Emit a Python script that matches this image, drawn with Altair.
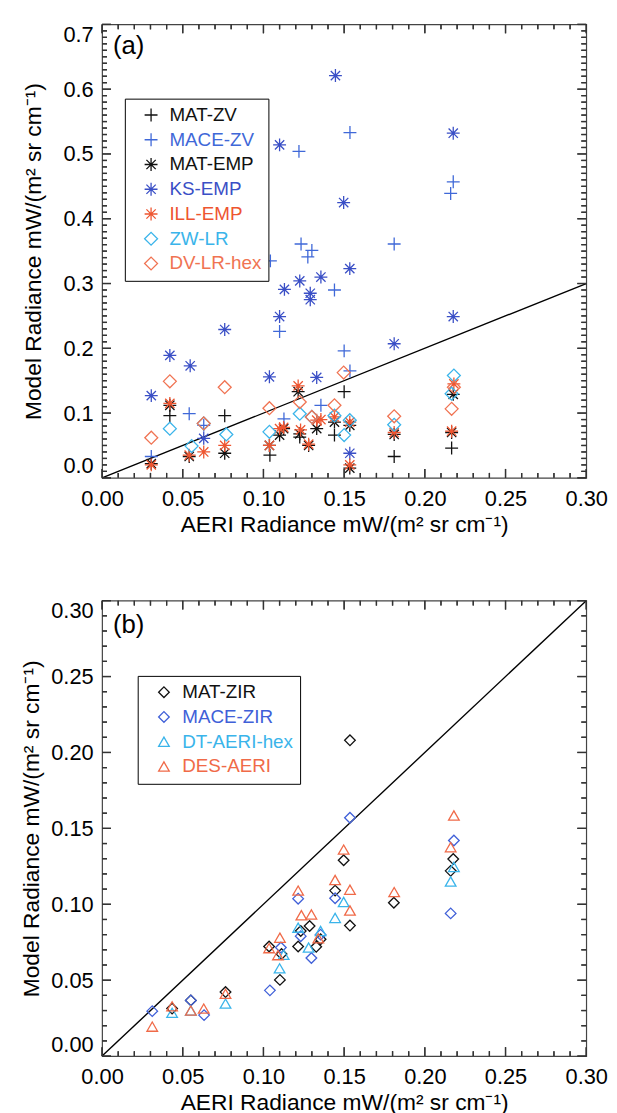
import altair as alt
import pandas as pd

FONT = "Liberation Sans"
FRAME = "#444444"
TICKC = "#333333"
PLUS = "M-1,0L1,0M0,-1L0,1"
AST = "M-1,0L1,0M0,-1L0,1M-0.72,-0.72L0.72,0.72M-0.72,0.72L0.72,-0.72"

# ---------------- panel (a) data ----------------
a_series = ["MAT-ZV", "MACE-ZV", "MAT-EMP", "KS-EMP", "ILL-EMP", "ZW-LR", "DV-LR-hex"]
a_colors = ["#111111", "#3f68d8", "#111111", "#3a4fc6", "#ee5530", "#3ab4ea", "#f07352"]
a_shapes = [PLUS, PLUS, AST, AST, AST, "diamond", "diamond"]
a_sizes = [170, 170, 160, 160, 160, 105, 105]

matzv_x = [0.042, 0.076, 0.104, 0.1225, 0.144, 0.150, 0.181, 0.2166]
matzv_y = [0.096, 0.096, 0.035, 0.063, 0.066, 0.133, 0.033, 0.046]

macezv_x = [0.0305, 0.054, 0.063, 0.1043, 0.110, 0.1127, 0.122, 0.1233, 0.1275, 0.130,
            0.1356, 0.144, 0.150, 0.1536, 0.1536, 0.181, 0.216, 0.2176]
macezv_y = [0.033, 0.099, 0.081, 0.335, 0.226, 0.091, 0.504, 0.361, 0.341, 0.351,
            0.112, 0.290, 0.196, 0.165, 0.533, 0.361, 0.439, 0.457]

matemp_x = [0.0305, 0.042, 0.054, 0.076, 0.1037, 0.110, 0.1125, 0.1215, 0.1225, 0.128,
            0.133, 0.144, 0.1535, 0.1535, 0.181, 0.2166, 0.2176]
matemp_y = [0.022, 0.112, 0.033, 0.038, 0.050, 0.066, 0.076, 0.133, 0.068, 0.050,
            0.076, 0.086, 0.081, 0.015, 0.067, 0.070, 0.129]

ksemp_x = [0.0305, 0.042, 0.0546, 0.063, 0.076, 0.1037, 0.110, 0.110, 0.113, 0.1225,
           0.129, 0.129, 0.133, 0.1356, 0.1446, 0.1497, 0.1535, 0.1535, 0.181, 0.2176, 0.2176]
ksemp_y = [0.127, 0.189, 0.173, 0.061, 0.229, 0.156, 0.249, 0.514, 0.291, 0.304,
           0.285, 0.275, 0.155, 0.310, 0.621, 0.425, 0.323, 0.038, 0.207, 0.532, 0.249]

illemp_x = [0.0305, 0.042, 0.054, 0.063, 0.076, 0.1037, 0.110, 0.1125, 0.1215, 0.123,
            0.128, 0.133, 0.1356, 0.144, 0.1535, 0.1535, 0.181, 0.2166, 0.218]
illemp_y = [0.020, 0.115, 0.035, 0.040, 0.050, 0.050, 0.076, 0.078, 0.142, 0.074,
            0.052, 0.089, 0.090, 0.094, 0.086, 0.020, 0.070, 0.072, 0.145]

zwlr_x = [0.042, 0.0555, 0.063, 0.077, 0.1037, 0.1225, 0.130, 0.144, 0.150, 0.1535,
          0.181, 0.2166, 0.218]
zwlr_y = [0.076, 0.049, 0.084, 0.067, 0.071, 0.099, 0.094, 0.096, 0.066, 0.089,
          0.082, 0.130, 0.158]

dvlr_x = [0.0305, 0.042, 0.063, 0.076, 0.1037, 0.1225, 0.130, 0.144, 0.1497, 0.181,
          0.2166, 0.218]
dvlr_y = [0.062, 0.149, 0.084, 0.140, 0.1075, 0.117, 0.094, 0.112, 0.1625, 0.095,
          0.1065, 0.140]

# ---------------- panel (b) data ----------------
b_series = ["MAT-ZIR", "MACE-ZIR", "DT-AERI-hex", "DES-AERI"]
b_colors = ["#111111", "#4060d8", "#3ab4ea", "#f06a48"]
b_shapes = ["diamond", "diamond", "triangle-up", "triangle-up"]
b_sizes = [115, 115, 150, 150]

matzir_x = [0.0434, 0.055, 0.0765, 0.1035, 0.1102, 0.1112, 0.1215, 0.1231, 0.1286, 0.1327,
            0.1354, 0.1444, 0.1497, 0.1536, 0.1536, 0.1808, 0.216, 0.2176]
matzir_y = [0.0313, 0.0367, 0.0422, 0.0722, 0.0502, 0.0672, 0.0722, 0.0824, 0.0857, 0.072,
            0.077, 0.109, 0.129, 0.086, 0.208, 0.101, 0.122, 0.1298]

macezir_x = [0.0311, 0.055, 0.0632, 0.104, 0.1108, 0.1215, 0.1231, 0.1297, 0.1354, 0.1444,
             0.1536, 0.216, 0.218]
macezir_y = [0.0296, 0.0367, 0.027, 0.0433, 0.0715, 0.1037, 0.079, 0.0646, 0.080, 0.104,
             0.157, 0.094, 0.142]

dtaeri_x = [0.0434, 0.055, 0.0765, 0.110, 0.1125, 0.1215, 0.128, 0.1354, 0.1444, 0.1497,
            0.216, 0.218]
dtaeri_y = [0.0285, 0.030, 0.0346, 0.0578, 0.0667, 0.0846, 0.0715, 0.0824, 0.091, 0.1015,
            0.115, 0.1246]

desaeri_x = [0.0311, 0.0434, 0.055, 0.063, 0.0765, 0.1035, 0.1102, 0.109, 0.1215, 0.1235,
             0.1297, 0.134, 0.1444, 0.1497, 0.1536, 0.1536, 0.181, 0.216, 0.218]
desaeri_y = [0.0194, 0.0328, 0.030, 0.0313, 0.041, 0.0711, 0.078, 0.0665, 0.109, 0.0928,
             0.0933, 0.0776, 0.116, 0.136, 0.1096, 0.0959, 0.108, 0.1376, 0.1585]

x_ticks = [0.0, 0.05, 0.10, 0.15, 0.20, 0.25, 0.30]
ya_ticks = [0.0, 0.1, 0.2, 0.3, 0.4, 0.5, 0.6, 0.7]
yb_ticks = [0.0, 0.05, 0.10, 0.15, 0.20, 0.25, 0.30]
x_minor = [i / 100 for i in range(31) if i % 5]
ya_minor = [i / 100 for i in range(71) if i % 10]
yb_minor = [i / 100 for i in range(31) if i % 5]
diag = [0.0, 0.30]

W = 489
HA = 458
HB = 460
XTITLE = "AERI Radiance mW/(m² sr cm⁻¹)"
YTITLE = "Model Radiance mW/(m² sr cm⁻¹)"

TICK_UP = "M0,0L0,-1"
TICK_DOWN = "M0,0L0,1"
TICK_RIGHT = "M0,0L1,0"
TICK_LEFT = "M0,0L-1,0"


def long_df(names, xs, ys):
    rows = []
    for n, xv, yv in zip(names, xs, ys):
        for a, b in zip(xv, yv):
            rows.append({"series": n, "x": a, "y": b})
    return pd.DataFrame(rows)


def color_expr(names, colors):
    e = ""
    for n, c in zip(names, colors):
        e += f"datum.value === '{n}' ? '{c}' : "
    return e + "'black'"


def panel(df, names, colors, shapes, sizes, ydom, yvals, yminor, yfmt, H,
          ytitle_pad, lx, ly, tag, tag_y):
    xs = alt.Scale(domain=[0, 0.30], nice=False, zero=False)
    ys = alt.Scale(domain=ydom, nice=False, zero=False)
    X = alt.X("x:Q", scale=xs, title=XTITLE,
              axis=alt.Axis(values=x_ticks, format=".2f", labelFontSize=22,
                            titleFontSize=23, labelPadding=11, titlePadding=4,
                            labelFlush=False, labelOverlap=False, ticks=False,
                            domain=False, grid=False))
    Y = alt.Y("y:Q", scale=ys, title=YTITLE,
              axis=alt.Axis(values=yvals, format=yfmt, labelFontSize=22,
                            titleFontSize=23, labelPadding=9, titlePadding=ytitle_pad,
                            labelFlush=True, labelOverlap=False, ticks=False,
                            domain=False, grid=False))

    layers = []
    line = alt.Chart(pd.DataFrame({"x": diag, "y": diag})).mark_line(
        color="black", strokeWidth=1.4).encode(x=X, y=Y)
    layers.append(line)

    legend = alt.Legend(title=None, orient="none", legendX=lx, legendY=ly,
                        direction="vertical", strokeColor="black", fillColor="white",
                        padding=7, labelFont=FONT, labelFontSize=19,
                        symbolSize=100, symbolStrokeWidth=1.3, symbolOffset=10,
                        labelOffset=9, rowPadding=5,
                        labelColor={"expr": color_expr(names, colors)})
    pts = alt.Chart(df).mark_point(filled=False, strokeWidth=1.3, opacity=1).encode(
        x=X, y=Y,
        color=alt.Color("series:N", sort=names,
                        scale=alt.Scale(domain=names, range=colors), legend=legend),
        shape=alt.Shape("series:N", sort=names,
                        scale=alt.Scale(domain=names, range=shapes), legend=legend),
        size=alt.Size("series:N", sort=names,
                      scale=alt.Scale(domain=names, range=sizes), legend=None),
    )
    layers.append(pts)

    txt = alt.Chart(pd.DataFrame({"t": [tag]})).mark_text(
        align="left", baseline="alphabetic", fontSize=26, font=FONT, color="black"
    ).encode(x=alt.value(11), y=alt.value(tag_y), text="t:N")
    layers.append(txt)

    # inward ticks on all four sides, anchored at the axis extremes in data space
    y0, y1 = ydom
    for vals, ln in ((x_ticks, 9), (x_minor, 5)):
        for yy, shp in ((y0, TICK_UP), (y1, TICK_DOWN)):
            d = pd.DataFrame({"x": vals, "y": [yy] * len(vals)})
            layers.append(alt.Chart(d).mark_point(
                shape=shp, size=(2 * ln) ** 2, filled=False, color=TICKC,
                strokeWidth=1.3, opacity=1).encode(x=X, y=Y))
    for vals, ln in ((yvals, 9), (yminor, 5)):
        for xx, shp in ((0.0, TICK_RIGHT), (0.30, TICK_LEFT)):
            d = pd.DataFrame({"x": [xx] * len(vals), "y": vals})
            layers.append(alt.Chart(d).mark_point(
                shape=shp, size=(2 * ln) ** 2, filled=False, color=TICKC,
                strokeWidth=1.3, opacity=1).encode(x=X, y=Y))
    # same ticks again as pixel-anchored rules
    for vals, ln in ((x_ticks, 9), (x_minor, 5)):
        d = pd.DataFrame({"x": vals})
        for p0, p1 in ((H, H - ln), (0, ln)):
            layers.append(alt.Chart(d).mark_rule(color=TICKC, strokeWidth=1.3).encode(
                x=X, y=alt.value(p0), y2=alt.value(p1)))
    for vals, ln in ((yvals, 9), (yminor, 5)):
        d = pd.DataFrame({"y": vals})
        for p0, p1 in ((0, ln), (W, W - ln)):
            layers.append(alt.Chart(d).mark_rule(color=TICKC, strokeWidth=1.3).encode(
                y=Y, x=alt.value(p0), x2=alt.value(p1)))

    return alt.layer(*layers).properties(width=W, height=H)


df_a = long_df(a_series,
               [matzv_x, macezv_x, matemp_x, ksemp_x, illemp_x, zwlr_x, dvlr_x],
               [matzv_y, macezv_y, matemp_y, ksemp_y, illemp_y, zwlr_y, dvlr_y])
df_b = long_df(b_series,
               [matzir_x, macezir_x, dtaeri_x, desaeri_x],
               [matzir_y, macezir_y, dtaeri_y, desaeri_y])

pa = panel(df_a, a_series, a_colors, a_shapes, a_sizes, [0, 0.7], ya_ticks, ya_minor,
           ".1f", HA, 18, 23, 75, "(a)", 30)
pb = panel(df_b, b_series, b_colors, b_shapes, b_sizes, [0, 0.30], yb_ticks, yb_minor,
           ".2f", HB, 7, 36, 76, "(b)", 33)

chart = alt.vconcat(pa, pb, spacing=60).resolve_scale(
    x="independent", y="independent", color="independent",
    shape="independent", size="independent"
).properties(
    padding={"left": 12, "top": 7, "right": 0, "bottom": 0}
).configure_axis(
    labelFont=FONT, titleFont=FONT, labelColor="black", titleColor="black",
    titleFontWeight="normal"
).configure_view(stroke=FRAME, strokeWidth=1.2)

chart.save("out.html", embed_options={"renderer": "svg", "actions": False})
